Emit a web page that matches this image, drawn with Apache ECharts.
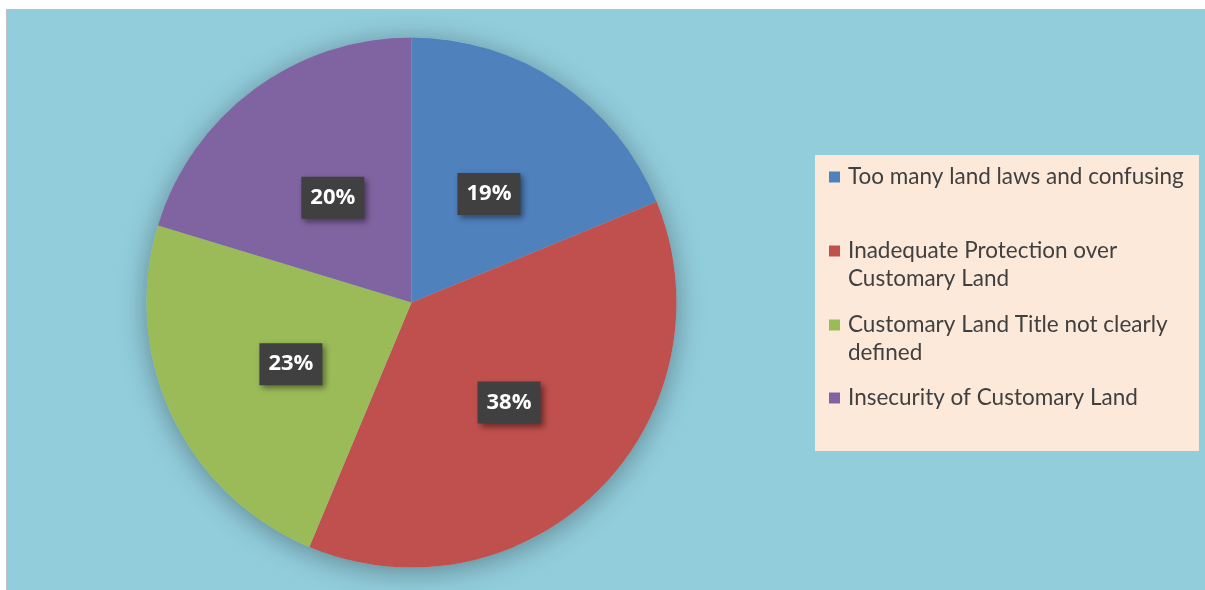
<!DOCTYPE html>
<html><head><meta charset="utf-8">
<script src="https://cdn.jsdelivr.net/npm/echarts@6/dist/echarts.min.js"></script>
<style>
html,body{margin:0;padding:0;background:#fff;width:1205px;height:590px;overflow:hidden;}
#frame{position:absolute;left:6px;top:9px;width:1199px;height:581px;border-left:1px solid #bfbfbf;border-top:1px solid #bfbfbf;background:#92CDDC;}
#chart{width:1199px;height:581px;}
</style></head><body>
<div id="frame"><div id="chart"></div></div>
<script>
const categories = [
  'Too many land laws and confusing',
  'Inadequate Protection over Customary Land',
  'Customary Land Title not clearly defined',
  'Insecurity of Customary Land'
];
// slice shares (percent)
const values = [18.8, 37.5, 23.4, 20.3];
const colors = ['#4F81BD', '#C0504D', '#9BBB59', '#8064A2'];

const chart = echarts.init(document.getElementById('chart'), null, {renderer: 'canvas'});

const legendFont = {fontFamily: 'Lato', fontSize: 22.5, color: '#404040', lineHeight: 28, width: 345, overflow: 'break', padding: [0, 0, 0, 3]};
const legendTops = [153, 199, 273, 374];
const twoLine = [false, true, true, false];
const legends = categories.map((name, i) => ({
  data: [name],
  orient: 'vertical',
  left: 822,
  top: legendTops[i],
  padding: 0,
  itemWidth: 11,
  itemHeight: 11,
  icon: 'rect',
  formatter: n => (twoLine[i] ? '\n' : '') + n,
  textStyle: legendFont
}));

chart.setOption({
  backgroundColor: '#92CDDC',
  color: colors,
  animation: false,
  graphic: [{
    type: 'rect', left: 808, top: 145, z: -1,
    shape: {width: 384, height: 296},
    style: {fill: '#FDE9D9'}
  }],
  legend: legends,
  series: [
    {
      type: 'pie', silent: true, z: 1,
      center: [404.5, 292.5], radius: 265,
      label: {show: false}, labelLine: {show: false},
      itemStyle: {color: '#92CDDC', shadowBlur: 28, shadowColor: 'rgba(0,0,0,0.35)', shadowOffsetY: 4},
      data: [{value: 1, name: '__shadow'}]
    },
    {
      type: 'pie', z: 2,
      center: [404.5, 292.5], radius: 265,
      startAngle: 90, clockwise: true,
      percentPrecision: 0,
      emphasis: {scale: false},
      labelLine: {show: false},
      label: {
        show: true, position: 'inside',
        formatter: '{d}%',
        offset: [2, 4],
        fontFamily: 'Open Sans', fontWeight: 'bold', fontSize: 22, color: '#fff',
        lineHeight: 28,
        backgroundColor: '#404040',
        padding: [7, 9],
        shadowColor: 'rgba(0,0,0,0.45)', shadowBlur: 6, shadowOffsetX: 3, shadowOffsetY: 3
      },
      data: categories.map((n, i) => ({name: n, value: values[i]}))
    }
  ]
});
</script>
</body></html>
